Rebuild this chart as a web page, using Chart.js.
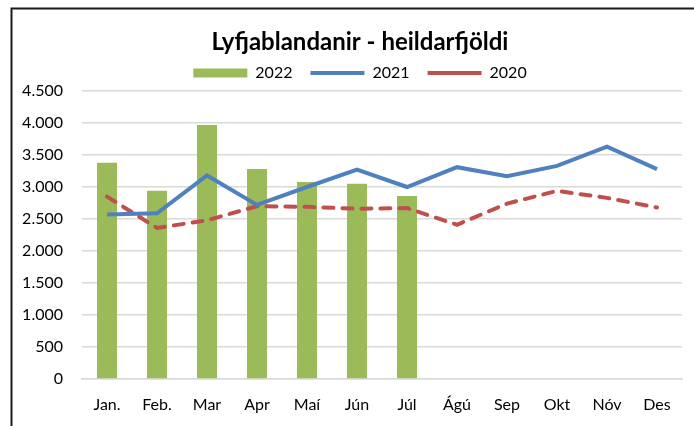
<!DOCTYPE html>
<html lang="is">
<head>
<meta charset="utf-8">
<title>Lyfjablandanir - heildarfjöldi</title>
<script src="https://cdn.jsdelivr.net/npm/chart.js@4/dist/chart.umd.min.js"></script>
<style>
  html, body { margin: 0; padding: 0; background: #fff; overflow: hidden; }
  .chart-wrap { position: relative; width: 694px; height: 426px; }
</style>
</head>
<body>
<div class="chart-wrap">
  <canvas id="mixChart" width="694" height="426"></canvas>
</div>
<script>
const months = ['Jan.', 'Feb.', 'Mar', 'Apr', 'Maí', 'Jún', 'Júl', 'Ágú', 'Sep', 'Okt', 'Nóv', 'Des'];
const values2022 = [3380, 2940, 3970, 3280, 3080, 3050, 2860];
const values2021 = [2570, 2590, 3180, 2720, 3000, 3270, 3000, 3310, 3170, 3330, 3630, 3280];
const values2020 = [2850, 2360, 2480, 2700, 2690, 2660, 2670, 2410, 2740, 2940, 2830, 2680];
const yTicks = [0, 500, 1000, 1500, 2000, 2500, 3000, 3500, 4000, 4500];

// thousands separator is a dot
const fmt = (v) => String(v).replace(/\B(?=(\d{3})+(?!\d))/g, '.');

// frame around the chart (left and top edges only show)
const framePlugin = {
  id: 'frame',
  beforeDraw(chart) {
    const ctx = chart.ctx;
    ctx.save();
    ctx.fillStyle = '#fff';
    ctx.fillRect(0, 0, chart.width, chart.height);
    ctx.strokeStyle = '#1a1a1a';
    ctx.lineWidth = 2;
    ctx.beginPath();
    ctx.moveTo(11.5, chart.height);
    ctx.lineTo(11.5, 8.5);
    ctx.lineTo(chart.width, 8.5);
    ctx.stroke();
    ctx.restore();
  }
};

// the frame runs on past the right edge, so centre title + legend on it
const headerShift = {
  id: 'headerShift',
  afterLayout(chart) {
    [chart.titleBlock, chart.legend].forEach((box) => {
      if (box) { box.left += 19; box.right += 19; }
    });
  }
};

Chart.defaults.font.family = 'Lato, "Open Sans", sans-serif';
Chart.defaults.color = '#000';

new Chart(document.getElementById('mixChart'), {
  data: {
    labels: months,
    datasets: [
      {
        type: 'bar',
        label: '2022',
        data: values2022,
        backgroundColor: '#9bbb59',
        categoryPercentage: 1,
        barPercentage: 0.4,
        order: 2
      },
      {
        type: 'line',
        label: '2021',
        data: values2021,
        borderColor: '#4f81bd',
        backgroundColor: '#4f81bd',
        borderWidth: 4,
        pointRadius: 0,
        tension: 0,
        order: 0
      },
      {
        type: 'line',
        label: '2020',
        data: values2020,
        borderColor: '#c0504d',
        backgroundColor: '#c0504d',
        borderWidth: 4,
        borderDash: [10, 9],
        borderCapStyle: 'round',
        pointRadius: 0,
        tension: 0,
        order: 1
      }
    ]
  },
  options: {
    responsive: false,
    animation: false,
    layout: { padding: { left: 0, right: 12, top: 10, bottom: 0 } },
    plugins: {
      title: {
        display: true,
        text: 'Lyfjablandanir - heildarfjöldi',
        font: { size: 24, weight: 'bold' },
        color: '#000',
        padding: { top: 17.6, bottom: -9.4 }
      },
      legend: {
        position: 'top',
        labels: {
          usePointStyle: true,
          pointStyleWidth: 54,
          boxHeight: 9,
          padding: 18,
          font: { size: 16 },
          color: '#000',
          sort: (a, b) => a.datasetIndex - b.datasetIndex,
          generateLabels(chart) {
            const items = Chart.defaults.plugins.legend.labels.generateLabels(chart);
            items.forEach((item) => {
              item.pointStyle = item.datasetIndex === 0 ? 'rect' : 'line';
            });
            return items;
          }
        }
      },
      tooltip: { enabled: false }
    },
    scales: {
      x: {
        offset: true,
        grid: { display: false, drawTicks: false },
        border: { display: true, color: '#d9d9d9', width: 1.5 },
        ticks: { padding: 16, font: { size: 16 }, color: '#000', maxRotation: 0 },
        afterFit(scale) { scale.height = 47; }
      },
      y: {
        min: 0,
        max: 4500,
        afterBuildTicks(scale) { scale.ticks = yTicks.map((v) => ({ value: v })); },
        grid: { color: '#d9d9d9', lineWidth: 1.5, drawTicks: false },
        border: { display: false },
        ticks: { padding: 19, font: { size: 16 }, color: '#000', callback: (v) => fmt(v) },
        afterFit(scale) { scale.width = 82; }
      }
    }
  },
  plugins: [framePlugin, headerShift]
});
</script>
</body>
</html>
